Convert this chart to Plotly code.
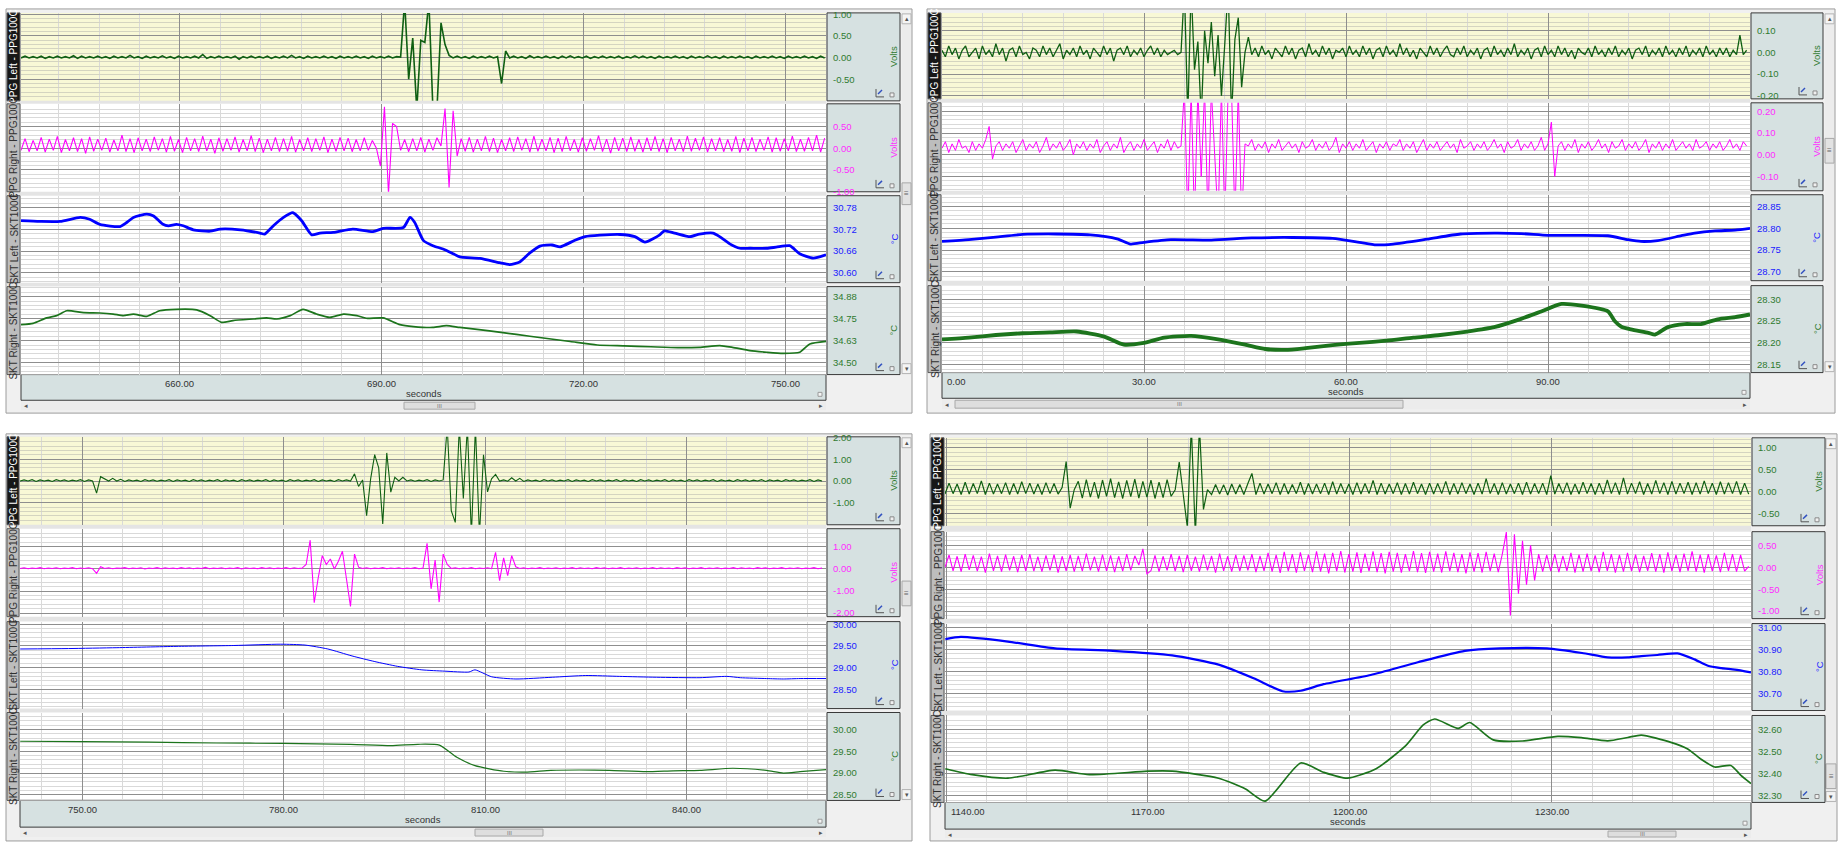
import numpy as np
import plotly.graph_objects as go

W, H = 1838, 843
FONT = "Liberation Sans, Arial, sans-serif"

# ------------------------------------------------------------------ time axes
tl_view = [636.4, 756.0]
tr_view = [0.0, 120.0]
bl_view = [740.77, 860.76]
br_view = [1139.85, 1259.6]

tl_xticks = [660, 690, 720, 750]
tr_xticks = [0, 30, 60, 90]
bl_xticks = [750, 780, 810, 840]
br_xticks = [1140, 1170, 1200, 1230]

PPG_STEP = 0.6      # seconds between stored PPG values
TR_PPG_STEP = 0.5

# ------------------------------------------------------------------ top-left recording
tl_ppg_left = [
    -0.01, 0.03, -0.01, 0.02, -0.01, 0.03, -0.02, 0.02, -0.01, 0.03,
    -0.01, 0.02, -0.01, 0.04, -0.02, 0.03, -0.01, 0.02, -0.01, 0.03,
    -0.01, 0.02, -0.02, 0.03, -0.01, 0.02, -0.01, 0.05, -0.01, 0.02,
    -0.02, 0.03, -0.01, 0.02, -0.01, 0.04, -0.01, 0.02, -0.02, 0.03,
    -0.01, 0.02, -0.01, 0.03, -0.01, 0.07, -0.02, 0.02, -0.01, 0.03,
    -0.01, 0.02, -0.01, 0.03, -0.04, 0.02, -0.01, 0.03, -0.01, 0.02,
    -0.01, 0.03, -0.02, 0.02, -0.01, 0.03, -0.01, 0.05, -0.01, 0.02,
    -0.02, 0.03, -0.01, 0.02, -0.01, 0.03, -0.01, 0.02, -0.02, 0.03,
    -0.01, 0.02, -0.01, 0.03, -0.01, 0.02, -0.02, 0.03, -0.01, 0.02,
    -0.01, 0.03, -0.01, 0.02, 0.01,
    1.3, -0.5, 0.45, -1.2, 0.4, 0.35, 1.3, -1.2, -1.2, 0.8, 0.3, 0.05,
    -0.01, 0.03, -0.01, 0.02, -0.02, 0.03, -0.01, 0.02, -0.01, 0.03, -0.01, 0.02,
    -0.6, 0.15,
    -0.01, 0.03, -0.01, 0.02, -0.02, 0.04, -0.01, 0.02, -0.01,
    0.03, -0.01, 0.02, -0.02, 0.03, -0.01, 0.04, -0.01, 0.02, -0.01,
    0.03, -0.02, 0.02, -0.01, 0.03, -0.01, 0.02, -0.01, 0.03, -0.02,
    0.02, -0.01, 0.04, -0.01, 0.03, -0.01, 0.02, -0.02, 0.03, -0.01,
    0.02, -0.01, 0.03, -0.01, 0.02, -0.02, 0.03, -0.01, 0.02, -0.01,
    0.04, -0.01, 0.02, -0.02, 0.03, -0.01, 0.02, -0.01, 0.03, -0.01,
    0.02, -0.02, 0.03, -0.01, 0.02, -0.01, 0.03, -0.01, 0.02, -0.02,
    0.03, -0.01, 0.02, -0.01, 0.03, -0.01, 0.02, -0.02, 0.03, -0.01,
]
tl_ppg_right = [
    -0.05, 0.22, -0.08, 0.18, -0.06, 0.25, -0.09, 0.21, -0.05, 0.27,
    -0.10, 0.20, -0.06, 0.24, -0.08, 0.22, -0.12, 0.26, -0.07, 0.21,
    -0.05, 0.23, -0.09, 0.19, -0.06, 0.30, -0.08, 0.22, -0.10, 0.24,
    -0.06, 0.21, -0.08, 0.26, -0.05, 0.22, -0.09, 0.27, -0.07, 0.20,
    -0.10, 0.25, -0.06, 0.22, -0.08, 0.28, -0.06, 0.21, -0.12, 0.24,
    -0.07, 0.22, -0.05, 0.26, -0.09, 0.20, -0.06, 0.29, -0.08, 0.23,
    -0.10, 0.21, -0.06, 0.25, -0.08, 0.22, -0.07, 0.27, -0.09, 0.20,
    -0.06, 0.24, -0.08, 0.22, -0.05, 0.26, -0.10, 0.21, -0.07, 0.25,
    -0.06, 0.23, -0.08, 0.20, -0.06, 0.24, -0.05, 0.18, 0.00,
    -0.41, 0.95, -1.05, 0.57, 0.50, -0.05, 0.20,
    -0.08, 0.22, -0.06, 0.25, -0.09, 0.21, -0.05, 0.24, 0.05,
    0.91, -0.90, 0.86, -0.18,
    0.22, -0.07, 0.25, -0.09, 0.21, -0.06, 0.27, -0.08, 0.23, -0.10,
    0.20, -0.06, 0.24, -0.08, 0.26, -0.05, 0.22, -0.09, 0.28, -0.07,
    0.21, -0.06, 0.25, -0.10, 0.23, -0.08, 0.27, -0.06, 0.20, -0.09,
    0.24, -0.07, 0.22, -0.05, 0.29, -0.08, 0.21, -0.11, 0.25, -0.06,
    0.23, -0.08, 0.26, -0.07, 0.20, -0.09, 0.24, -0.06, 0.27, -0.08,
    0.22, -0.10, 0.25, -0.06, 0.21, -0.08, 0.28, -0.07, 0.23, -0.05,
    0.26, -0.09, 0.22, -0.06, 0.24, -0.08, 0.20, -0.07, 0.27, -0.10,
    0.23, -0.06, 0.25, -0.08, 0.21, -0.05, 0.26, -0.09, 0.24, -0.07,
    0.22, -0.06, 0.28, -0.08, 0.21, -0.07, 0.25, -0.06, 0.30, -0.09,
    0.23,
]
tl_skt_left_t = [
    636.4, 639.2, 642.2, 645.2, 646.6, 648.1, 651.1, 652.1, 653.1, 655.1,
    656.1, 657.5, 658.3, 659.5, 660.5, 662.0, 664.5, 666.0, 669.0, 671.9,
    672.6, 673.9, 675.4, 676.8, 678.1, 679.6, 680.8, 682.8, 685.7, 688.7,
    690.2, 693.2, 694.2, 694.9, 696.2, 697.6, 699.1, 700.6, 701.6, 704.6,
    707.5, 709.0, 710.5, 712.0, 713.5, 715.3, 716.5, 718.7, 720.2, 722.4,
    725.4, 727.6, 729.1, 731.3, 732.0, 733.5, 735.8, 737.2, 739.2, 740.2,
    741.7, 743.2, 744.7, 747.2, 748.6, 750.6, 752.1, 754.1, 756.0,
]
tl_skt_left = [
    30.744, 30.742, 30.742, 30.753, 30.748, 30.734, 30.728, 30.739, 30.753, 30.762,
    30.757, 30.734, 30.730, 30.734, 30.730, 30.719, 30.715, 30.721, 30.719, 30.710,
    30.707, 30.730, 30.753, 30.766, 30.744, 30.705, 30.710, 30.712, 30.721, 30.714,
    30.723, 30.725, 30.753, 30.739, 30.689, 30.675, 30.666, 30.653, 30.644, 30.640,
    30.628, 30.623, 30.630, 30.655, 30.674, 30.677, 30.672, 30.690, 30.700, 30.704,
    30.706, 30.700, 30.685, 30.705, 30.716, 30.710, 30.700, 30.707, 30.710, 30.700,
    30.680, 30.668, 30.668, 30.668, 30.671, 30.675, 30.653, 30.641, 30.650,
]
tl_skt_right_t = [
    636.4, 638.2, 640.2, 641.7, 643.2, 645.7, 648.1, 650.1, 651.6, 653.1,
    655.1, 657.0, 659.5, 662.5, 664.5, 666.2, 667.9, 670.9, 672.9, 674.4,
    676.4, 678.3, 680.3, 682.3, 684.3, 686.3, 687.7, 690.2, 692.7, 694.7,
    697.6, 699.6, 701.6, 706.0, 710.0, 714.0, 718.0, 722.0, 726.0, 730.0,
    734.0, 737.2, 740.2, 742.1, 744.7, 747.2, 749.6, 752.1, 753.6, 756.0,
]
tl_skt_right = [
    34.716, 34.723, 34.754, 34.767, 34.795, 34.784, 34.782, 34.776, 34.767, 34.776,
    34.763, 34.795, 34.803, 34.800, 34.767, 34.729, 34.739, 34.748, 34.754, 34.748,
    34.767, 34.803, 34.776, 34.757, 34.776, 34.767, 34.752, 34.754, 34.716, 34.705,
    34.700, 34.710, 34.700, 34.680, 34.660, 34.640, 34.620, 34.600, 34.595, 34.590,
    34.585, 34.587, 34.597, 34.587, 34.568, 34.559, 34.553, 34.559, 34.606, 34.621,
]

# ------------------------------------------------------------------ top-right recording
tr_ppg_left = [
    0.01, -0.02, 0.03, -0.01, 0.02, -0.03, 0.01, 0.03, -0.02, 0.00,
    0.02, -0.03, 0.03, -0.01, 0.01, -0.02, 0.04, -0.01, 0.02, -0.04,
    0.01, 0.02, -0.02, 0.03, -0.01, 0.00, -0.03, 0.02, 0.01, -0.02,
    0.03, -0.01, 0.02, -0.02, 0.01, 0.04, -0.03, 0.01, -0.01, 0.02,
    -0.02, 0.03, -0.01, 0.01, -0.03, 0.02, 0.00, -0.02, 0.03, -0.01,
    0.02, -0.04, 0.01, 0.02, -0.01, 0.03, -0.02, 0.01, -0.01, 0.02,
    -0.02, 0.01, 0.03, -0.01, 0.02, -0.02, 0.01, -0.01, 0.00, 0.01,
    -0.01, 0.00,
    0.30, -0.30, 0.30, -0.08, 0.05, -0.30, 0.10, -0.05, 0.14, -0.11,
    0.08, -0.20, 0.04, 0.30, -0.30, 0.06, 0.16, -0.16, 0.00, 0.07,
    -0.01, 0.02, -0.02, 0.03, -0.01, 0.01, -0.03, 0.02, 0.00, -0.02,
    0.03, -0.01, 0.02, -0.03, 0.01, 0.02, -0.02, 0.04, -0.01, 0.01,
    -0.02, 0.03, -0.01, 0.02, -0.03, 0.01, 0.00, 0.02, -0.02, 0.03,
    -0.01, 0.01, -0.02, 0.03, -0.01, 0.02, -0.03, 0.01, 0.02, -0.02,
    0.03, -0.01, 0.01, -0.02, 0.04, -0.01, 0.02, -0.02, 0.01, -0.03,
    0.02, 0.00, -0.02, 0.03, -0.01, 0.02, -0.02, 0.01, 0.03, -0.01,
    -0.02, 0.02, -0.01, 0.03, -0.02, 0.01, -0.01, 0.02, -0.03, 0.01,
    0.02, -0.02, 0.03, -0.01, 0.01, -0.02, 0.02, -0.01, 0.04, -0.02,
    0.01, -0.01, 0.02, -0.03, 0.01, 0.02, -0.02, 0.03, -0.01, 0.01,
    -0.02, 0.03, -0.01, 0.02, -0.02, 0.01, -0.03, 0.02, 0.00, -0.01,
    0.02, -0.02, 0.03, -0.01, 0.01, -0.02, 0.02, -0.01, 0.03, -0.02,
    0.01, -0.01, 0.02, -0.03, 0.01, 0.02, -0.01, 0.03, -0.02, 0.01,
    -0.01, 0.02, -0.02, 0.03, -0.01, 0.01, -0.02, 0.02, -0.01, 0.03,
    -0.02, 0.01, -0.01, 0.02, -0.02, 0.03, -0.01, 0.01, -0.02, 0.02,
    -0.01, 0.02, -0.02, 0.01, -0.01, 0.08, -0.01, 0.01,
]
tr_ppg_right = [
    0.03, 0.06, 0.01, 0.05, 0.02, 0.07, 0.03, 0.04, 0.01, 0.06,
    0.02, 0.05, 0.03, 0.07, 0.13, -0.02, 0.04, 0.06, 0.02, 0.05,
    0.03, 0.06, 0.01, 0.04, 0.07, 0.02, 0.05, 0.03, 0.06, 0.01,
    0.04, 0.08, 0.02, 0.05, 0.03, 0.06, 0.02, 0.04, 0.07, 0.00,
    0.05, 0.03, 0.06, 0.02, 0.05, 0.03, 0.07, 0.01, 0.04, 0.06,
    0.02, 0.05, 0.03, 0.08, 0.01, 0.04, 0.06, 0.02, 0.05, 0.03,
    0.07, 0.02, 0.04, 0.06, 0.01, 0.05, 0.03, 0.07, 0.02, 0.06,
    0.03, 0.04,
    0.30, -0.30, 0.30, -0.30, 0.30, -0.10, 0.30, -0.30, 0.30, 0.00,
    -0.30, 0.30, -0.30, 0.30, 0.30, -0.30, 0.30, -0.30, 0.05,
    0.04, 0.07, 0.02, 0.05, 0.03, 0.06, 0.01, 0.05, 0.03, 0.07,
    0.02, 0.04, 0.06, 0.03, 0.05, 0.01, 0.06, 0.03, 0.04, 0.07,
    0.02, 0.05, 0.03, 0.06, 0.02, 0.04, 0.08, 0.01, 0.05, 0.03,
    0.06, 0.02, 0.05, 0.03, 0.07, 0.02, 0.04, 0.06, 0.01, 0.05,
    0.03, 0.06, 0.02, 0.05, 0.04, 0.07, 0.02, 0.05, 0.03, 0.06,
    0.01, 0.04, 0.07, 0.02, 0.05, 0.03, 0.06, 0.02, 0.04, 0.06,
    0.03, 0.05, 0.01, 0.07, 0.03, 0.04, 0.06, 0.02, 0.05, 0.03,
    0.06, 0.02, 0.04, 0.07, 0.03, 0.05, 0.01, 0.06, 0.03, 0.04,
    0.07, 0.02, 0.05, 0.03, 0.06, 0.02, 0.04, 0.08, 0.02, 0.05,
    0.15, -0.10, 0.04, 0.06, 0.02, 0.05, 0.03, 0.07, 0.01, 0.05,
    0.03, 0.06, 0.02, 0.04, 0.07, 0.03, 0.05, 0.01, 0.06, 0.03,
    0.04, 0.07, 0.02, 0.05, 0.03, 0.06, 0.02, 0.04, 0.07, 0.01,
    0.05, 0.03, 0.06, 0.02, 0.05, 0.03, 0.07, 0.02, 0.04, 0.06,
    0.03, 0.05, 0.02, 0.07, 0.03, 0.04, 0.06, 0.02, 0.05, 0.03,
    0.06, 0.02, 0.04, 0.07, 0.03, 0.05, 0.02, 0.06, 0.04,
]
tr_skt_left_t = [
    0, 4, 8, 12, 17, 22, 26, 28, 30, 34, 40, 46, 52, 58, 62, 64.5,
    67, 72, 77, 82, 86, 90, 94, 98.9, 101.9, 103.8, 106.3, 109.8, 111.8, 114.8, 117.8, 120,
]
tr_skt_left = [
    28.770, 28.774, 28.780, 28.786, 28.787, 28.785, 28.776, 28.764, 28.768, 28.774,
    28.773, 28.778, 28.779, 28.777, 28.768, 28.762, 28.764, 28.775, 28.787, 28.789,
    28.788, 28.784, 28.784, 28.783, 28.774, 28.770, 28.772, 28.783, 28.789, 28.794,
    28.796, 28.800,
]
tr_skt_right_t = [
    0, 4, 8, 12, 16, 20, 24, 27, 30, 33, 37, 41, 45, 48, 51, 54, 58, 62, 66, 70,
    74, 78, 82, 86, 89, 92, 95, 98.9, 99.9, 100.9, 102.3, 104.9, 105.9, 107.8, 110.3,
    112.7, 115.2, 117.8, 120,
]
tr_skt_right = [
    28.208, 28.212, 28.218, 28.222, 28.224, 28.226, 28.215, 28.196, 28.200, 28.212,
    28.216, 28.208, 28.196, 28.186, 28.184, 28.188, 28.195, 28.200, 28.205, 28.212,
    28.218, 28.226, 28.236, 28.255, 28.272, 28.289, 28.285, 28.272, 28.250, 28.237,
    28.231, 28.223, 28.219, 28.236, 28.243, 28.243, 28.254, 28.259, 28.265,
]

# ------------------------------------------------------------------ bottom-left recording
bl_ppg_left = [
    0.0, 0.05, 0.0, 0.06, -0.02, 0.05, 0.0, 0.04, -0.02, 0.06,
    0.0, 0.05, -0.01, 0.04, 0.0, 0.06, -0.02, 0.05, 0.0,
    -0.56, 0.2, 0.1,
    0.0, 0.12, 0.0, 0.08, -0.02, 0.05, 0.0, 0.04, -0.02, 0.06,
    0.0, 0.05, -0.01, 0.04, 0.0, 0.06, -0.02, 0.05, 0.0, 0.04,
    -0.02, 0.06, 0.0, 0.05, -0.01, 0.04, 0.0, 0.06, -0.02, 0.05,
    0.0, 0.04, -0.02, 0.06, 0.0, 0.05, -0.01, 0.04, 0.0, 0.06,
    -0.02, 0.05, 0.0, 0.04, -0.02, 0.06, 0.0, 0.05, -0.01, 0.04,
    0.0, 0.06, -0.02, 0.05, 0.0, 0.04, -0.02, 0.06, 0.0, 0.05, 0.0,
    0.33, -0.25, 0.05, -1.59, 0.1, 1.21, 0.6, -1.97, 1.29, -0.51, 0.17, 0.0, 0.17, 0.0,
    0.05, -0.01, 0.04, 0.0, 0.06, -0.02, 0.05, 0.0,
    0.05, 2.5, -1.36, -1.9, 2.5, -0.8, 2.5, -2.5, 2.5, -2.5, 1.2, -0.5, 0.1, 0.3, 0.0,
    0.05, -0.01, 0.15, 0.0, 0.12, -0.02, 0.05, 0.0, 0.04, -0.02,
    0.06, 0.0, 0.05, -0.01, 0.04, 0.0, 0.06, -0.02, 0.05, 0.0,
    0.04, -0.02, 0.06, 0.0, 0.05, -0.01, 0.04, 0.0, 0.06, -0.02,
    0.05, 0.0, 0.04, -0.02, 0.06, 0.0, 0.05, -0.01, 0.04, 0.0,
    0.06, -0.02, 0.05, 0.0, 0.04, -0.02, 0.06, 0.0, 0.05, -0.01,
    0.04, 0.0, 0.06, -0.02, 0.05, 0.0, 0.04, -0.02, 0.06, 0.0,
    0.05, -0.01, 0.04, 0.0, 0.06, -0.02, 0.05, 0.0, 0.04, -0.02,
    0.06, 0.0, 0.05, -0.01, 0.04, 0.0, 0.06, -0.02, 0.05, 0.0,
]
bl_ppg_right = [
    0.02, 0.05, 0.01, 0.04, 0.02, 0.06, 0.01, 0.04, 0.02, 0.05,
    0.01, 0.04, 0.02, 0.06, 0.01, 0.04, 0.02, 0.05, 0.01,
    -0.2, 0.1,
    0.02, 0.05, 0.01, 0.04, 0.03, 0.06, 0.01, 0.04, 0.02, 0.05,
    0.00, 0.04, 0.02, 0.06, 0.01, 0.05, 0.02, 0.04, 0.01, 0.06,
    0.02, 0.05, 0.01, 0.04, 0.02, 0.07, 0.01, 0.04, 0.02, 0.05,
    0.01, 0.04, 0.02, 0.06, 0.00, 0.05, 0.02, 0.04, 0.01, 0.06,
    0.02, 0.05, 0.01, 0.04, 0.02, 0.06, 0.01, 0.05, 0.02, 0.04,
    0.2, 1.3, -1.53, -0.4, 0.6, 0.2, 0.45, 0.0, 0.35, 0.8, -0.4, -1.7, 0.67, 0.08,
    0.02, 0.05, 0.01, 0.04, 0.02, 0.06, 0.01, 0.04, 0.02, 0.05, 0.01, 0.04, 0.02, 0.06, 0.01, 0.04,
    1.16, -0.9, 0.4, -1.5, 0.67, 0.2,
    0.02, 0.05, 0.01, 0.04, 0.02, 0.06, 0.01, 0.04, 0.02, 0.05, 0.01,
    0.75, -0.53, 0.5, -0.3, 0.6, 0.1,
    0.02, 0.05, 0.01, 0.04, 0.02, 0.06, 0.01, 0.04, 0.02, 0.05,
    0.01, 0.04, 0.02, 0.06, 0.01, 0.05, 0.02, 0.04, 0.01, 0.06,
    0.02, 0.05, 0.01, 0.04, 0.02, 0.06, 0.01, 0.04, 0.02, 0.05,
    0.01, 0.04, 0.02, 0.06, 0.01, 0.05, 0.02, 0.04, 0.01, 0.06,
    0.02, 0.05, 0.01, 0.04, 0.02, 0.06, 0.01, 0.04, 0.02, 0.05,
    0.01, 0.04, 0.02, 0.06, 0.01, 0.05, 0.02, 0.04, 0.01, 0.06,
    0.02, 0.05, 0.01, 0.04, 0.02, 0.06, 0.01, 0.04, 0.02, 0.05,
    0.01, 0.04, 0.02, 0.06, 0.01, 0.04,
]
bl_skt_left_t = [
    740.8, 748.0, 755.2, 764.0, 772.6, 779.6, 783.2, 786.6, 790.2, 793.6,
    797.0, 800.6, 804.0, 807.6, 808.5, 811.0, 814.6, 820.0, 825.0, 830.0,
    835.5, 842.0, 846.0, 848.0, 851.9, 854.4, 856.9, 860.8,
]
bl_skt_left = [
    29.43, 29.44, 29.46, 29.49, 29.51, 29.54, 29.52, 29.43, 29.27, 29.14,
    29.03, 28.95, 28.92, 28.90, 28.95, 28.79, 28.74, 28.78, 28.82, 28.80,
    28.78, 28.77, 28.80, 28.77, 28.75, 28.74, 28.75, 28.75,
]
bl_skt_right_t = [
    740.8, 750.0, 760.0, 770.0, 780.0, 790.0, 796.0, 800.0, 803.2, 805.8,
    808.5, 812.8, 816.0, 819.8, 824.0, 828.5, 834.0, 838.0, 842.0, 846.9,
    851.9, 854.4, 856.9, 860.8,
]
bl_skt_right = [
    29.73, 29.72, 29.71, 29.69, 29.68, 29.66, 29.63, 29.66, 29.64, 29.36,
    29.17, 29.04, 29.02, 29.06, 29.07, 29.06, 29.03, 29.05, 29.06, 29.11,
    29.06, 29.00, 29.03, 29.08,
]

# ------------------------------------------------------------------ bottom-right recording
br_ppg_left = [
    -0.05, 0.20, -0.04, 0.18, -0.06, 0.22, -0.05, 0.19, -0.04, 0.25,
    -0.06, 0.20, -0.05, 0.18, -0.04, 0.21, -0.06, 0.19, -0.05, 0.23,
    -0.04, 0.20, -0.05, 0.18, -0.06, 0.21, -0.04, 0.19, -0.05, 0.10,
    0.69, -0.37,
    0.05, 0.24, -0.14, 0.28, -0.12, 0.22, -0.15, 0.27, -0.10, 0.30,
    -0.13, 0.23, -0.15, 0.26, -0.11, 0.29, -0.14, 0.24, -0.12, 0.27,
    -0.15, 0.22, -0.13, 0.28, -0.10, 0.05,
    0.68, -0.1, -0.8, 1.5, -1.0, 1.5, -0.4, 0.05,
    -0.06, 0.17, -0.05, 0.16, -0.07, 0.18, -0.05, 0.17, -0.06, 0.19,
    0.42,
    -0.06, 0.20, -0.05, 0.18, -0.04, 0.21, -0.06, 0.19, -0.05, 0.17,
    -0.04, 0.22, -0.06, 0.19, -0.05, 0.18, -0.04, 0.20, -0.06, 0.23,
    -0.05, 0.19, -0.04, 0.18, -0.06, 0.21, -0.05, 0.19, -0.04, 0.26,
    -0.06, 0.20, -0.05, 0.18, -0.04, 0.21, -0.06, 0.19, -0.05, 0.22,
    -0.04, 0.18, -0.06, 0.20, -0.05, 0.19, -0.04, 0.24, -0.06, 0.19,
    -0.05, 0.21, -0.04, 0.18, -0.06, 0.20, -0.05, 0.30, -0.04, 0.19,
    -0.06, 0.21, -0.05, 0.18, -0.04, 0.20, -0.06, 0.22, -0.05, 0.19,
    -0.04, 0.20, -0.06, 0.37, -0.05, 0.19, -0.04, 0.21, -0.06, 0.18,
    -0.05, 0.22, -0.04, 0.19, -0.06, 0.20, -0.05, 0.27, -0.04, 0.21,
    -0.06, 0.32, -0.05, 0.20, -0.04, 0.23, -0.06, 0.19, -0.05, 0.26,
    -0.04, 0.21, -0.06, 0.24, -0.05, 0.20, -0.04, 0.22, -0.06, 0.21,
    -0.05, 0.25, -0.04, 0.20, -0.06, 0.23, -0.05, 0.21, -0.04, 0.24,
    -0.06, 0.20, -0.05,
]
br_ppg_right = [
    0.00, 0.28, -0.08, 0.25, -0.10, 0.30, -0.06, 0.27, -0.09, 0.24,
    -0.12, 0.31, -0.08, 0.26, -0.10, 0.29, -0.07, 0.25, -0.11, 0.28,
    -0.08, 0.30, -0.09, 0.24, -0.10, 0.27, -0.07, 0.29, -0.12, 0.25,
    -0.08, 0.28, -0.10, 0.26, -0.09, 0.31, -0.07, 0.24, -0.10, 0.29,
    -0.08, 0.27, -0.11, 0.25, -0.09, 0.30, -0.07, 0.26, 0.05,
    0.42, -0.15,
    -0.08, 0.27, -0.10, 0.25, -0.07, 0.30, -0.09, 0.26, -0.11, 0.28,
    -0.08, 0.24, -0.10, 0.29, -0.07, 0.26, -0.12, 0.31, -0.08, 0.25,
    -0.10, 0.28, -0.09, 0.27, -0.07, 0.30, -0.11, 0.26, -0.08, 0.33,
    -0.10, 0.28, -0.13, 0.35, -0.09, 0.30, -0.12, 0.34, -0.08, 0.29,
    -0.11, 0.36, -0.10, 0.31, -0.14, 0.33, -0.09, 0.37, -0.12, 0.30,
    -0.10, 0.34, -0.13, 0.31, -0.09, 0.36, -0.11, 0.32, -0.14, 0.35,
    -0.10, 0.33, -0.12, 0.30, -0.09, 0.37, -0.11, 0.32, -0.13, 0.35,
    -0.10, 0.31, -0.12, 0.36, -0.09, 0.33, -0.11, 0.30, -0.14, 0.34,
    -0.10, 0.32, -0.12, 0.35, -0.09, 0.31, -0.11,
    0.3, 0.8, -1.1, 0.75, -0.6, 0.6, -0.4, 0.5, -0.3, 0.3, -0.1,
    0.28, -0.09, 0.30, -0.11, 0.26, -0.08, 0.33, -0.12, 0.29, -0.10,
    0.31, -0.09, 0.27, -0.11, 0.35, -0.08, 0.30, -0.12, 0.28, -0.10,
    0.33, -0.09, 0.29, -0.11, 0.26, -0.08, 0.32, -0.10, 0.30, -0.12,
    0.34, -0.09, 0.28, -0.11, 0.31, -0.08, 0.36, -0.10, 0.29, -0.12,
    0.30, -0.09, 0.27, -0.11, 0.33, -0.08, 0.30, -0.10, 0.28, -0.09,
    0.02,
]
br_skt_left_t = [
    1139.9, 1142.2, 1149.2, 1156.2, 1164.8, 1173.6, 1180.5, 1185.7, 1190.0, 1192.7,
    1196.1, 1203.1, 1210.1, 1217.1, 1222.3, 1229.3, 1234.5, 1238.3, 1241.3, 1243.3,
    1245.7, 1248.7, 1251.2, 1253.2, 1255.2, 1257.2, 1259.6,
]
br_skt_left = [
    30.947, 30.957, 30.936, 30.905, 30.894, 30.873, 30.831, 30.769, 30.710, 30.712,
    30.742, 30.784, 30.842, 30.894, 30.905, 30.905, 30.884, 30.864, 30.864, 30.870,
    30.875, 30.882, 30.855, 30.826, 30.815, 30.808, 30.796,
]
br_skt_right_t = [
    1139.9, 1143.9, 1149.2, 1156.2, 1161.3, 1170.0, 1173.6, 1180.5, 1184.5, 1187.4,
    1192.7, 1196.1, 1199.6, 1203.9, 1208.3, 1210.9, 1212.6, 1216.1, 1217.8, 1221.3,
    1225.7, 1230.9, 1234.4, 1238.3, 1241.3, 1243.3, 1247.7, 1250.2, 1252.1, 1254.2,
    1256.6, 1258.1, 1259.6,
]
br_skt_right = [
    32.422, 32.395, 32.379, 32.416, 32.395, 32.411, 32.411, 32.379, 32.330, 32.275,
    32.448, 32.406, 32.379, 32.422, 32.527, 32.621, 32.648, 32.605, 32.632, 32.553,
    32.548, 32.569, 32.563, 32.549, 32.564, 32.575, 32.542, 32.512, 32.467, 32.430,
    32.437, 32.392, 32.355,
]

# ------------------------------------------------------------------ amplitude scales
tl_yranges = [[-1.0, 1.03], [-1.0, 1.02], [30.573, 30.813], [34.432, 34.932]]
tl_yticks = [[-1.0, -0.5, 0.0, 0.5, 1.0], [-1.0, -0.5, 0.0, 0.5, 1.0],
             [30.60, 30.66, 30.72, 30.78], [34.5, 34.625, 34.75, 34.875]]
tl_ylabels = [["", "-0.50", "0.00", "0.50", "1.00"], ["-1.00", "-0.50", "0.00", "0.50", ""],
              ["30.60", "30.66", "30.72", "30.78"], ["34.50", "34.63", "34.75", "34.88"]]

tr_yranges = [[-0.214, 0.182], [-0.166, 0.239], [28.68, 28.877], [28.132, 28.331]]
tr_yticks = [[-0.2, -0.1, 0.0, 0.1], [-0.1, 0.0, 0.1, 0.2],
             [28.70, 28.75, 28.80, 28.85], [28.15, 28.20, 28.25, 28.30]]
tr_ylabels = [["-0.20", "-0.10", "0.00", "0.10"], ["-0.10", "0.00", "0.10", "0.20"],
              ["28.70", "28.75", "28.80", "28.85"], ["28.15", "28.20", "28.25", "28.30"]]

bl_yranges = [[-2.01, 2.03], [-2.16, 1.82], [28.06, 30.06], [28.37, 30.39]]
bl_yticks = [[-2.0, -1.0, 0.0, 1.0, 2.0], [-2.0, -1.0, 0.0, 1.0],
             [28.5, 29.0, 29.5, 30.0], [28.5, 29.0, 29.5, 30.0]]
bl_ylabels = [["", "-1.00", "0.00", "1.00", "2.00"], ["-2.00", "-1.00", "0.00", "1.00"],
              ["28.50", "29.00", "29.50", "30.00"], ["28.50", "29.00", "29.50", "30.00"]]

br_yranges = [[-0.77, 1.23], [-1.17, 0.81], [30.622, 31.018], [32.269, 32.664]]
br_yticks = [[-0.5, 0.0, 0.5, 1.0], [-1.0, -0.5, 0.0, 0.5],
             [30.7, 30.8, 30.9, 31.0], [32.3, 32.4, 32.5, 32.6]]
br_ylabels = [["-0.50", "0.00", "0.50", "1.00"], ["-1.00", "-0.50", "0.00", "0.50"],
              ["30.70", "30.80", "30.90", "31.00"], ["32.30", "32.40", "32.50", "32.60"]]

channel_names = ["PPG Left - PPG100C", "PPG Right - PPG100C", "SKT Left - SKT100C", "SKT Right - SKT100C"]
channel_units = ["Volts", "Volts", "°C", "°C"]

# ------------------------------------------------------------------ styling
GREEN_D = "#0f5f12"
MAGENTA = "#ff00ff"
BLUE = "#0000ff"
GREEN_M = "#1c741c"
TXT_COL = ["#2f7a2f", "#ff2bff", "#1a1aff", "#2f7a2f"]
MAJOR = "#8e8e8e"
MINOR = "#d9d9d9"
MINOR_Y = "#d4d4c0"

# window geometry of the four AcqKnowledge graph windows (pixels)
panels = [
    dict(view=tl_view, xticks=tl_xticks, step=PPG_STEP,
         ppg=[tl_ppg_left, tl_ppg_right],
         skt=[(tl_skt_left_t, tl_skt_left), (tl_skt_right_t, tl_skt_right)],
         yr=tl_yranges, yt=tl_yticks, yl=tl_ylabels,
         widths=[1.6, 1.1, 2.8, 1.7],
         frame=(6, 4, 912, 413), strip=(7, 20), plot=(21, 826), box=(827, 900), vscroll=(902, 911),
         rows=[(8, 97), (100, 189), (193, 281), (285, 374)], band=(374, 400), hscroll=(401, 410),
         hthumb=(404, 475), vthumb=(180, 202)),
    dict(view=tr_view, xticks=tr_xticks, step=TR_PPG_STEP,
         ppg=[tr_ppg_left, tr_ppg_right],
         skt=[(tr_skt_left_t, tr_skt_left), (tr_skt_right_t, tr_skt_right)],
         yr=tr_yranges, yt=tr_yticks, yl=tr_ylabels,
         widths=[1.3, 1.0, 2.8, 3.8],
         frame=(927, 4, 1835, 413), strip=(928, 941), plot=(942, 1750), box=(1751, 1823), vscroll=(1825, 1834),
         rows=[(8, 95), (99, 188), (192, 279), (284, 372)], band=(372, 398), hscroll=(399, 409),
         hthumb=(955, 1403), vthumb=(135, 160)),
    dict(view=bl_view, xticks=bl_xticks, step=PPG_STEP,
         ppg=[bl_ppg_left, bl_ppg_right],
         skt=[(bl_skt_left_t, bl_skt_left), (bl_skt_right_t, bl_skt_right)],
         yr=bl_yranges, yt=bl_yticks, yl=bl_ylabels,
         widths=[1.1, 1.1, 1.0, 1.2],
         frame=(6, 434, 912, 846), strip=(7, 19), plot=(20, 826), box=(827, 900), vscroll=(902, 911),
         rows=[(437, 526), (530, 619), (624, 712), (716, 805)], band=(805, 832), hscroll=(833, 842),
         hthumb=(475, 543), vthumb=(583, 608)),
    dict(view=br_view, xticks=br_xticks, step=PPG_STEP,
         ppg=[br_ppg_left, br_ppg_right],
         skt=[(br_skt_left_t, br_skt_left), (br_skt_right_t, br_skt_right)],
         yr=br_yranges, yt=br_yticks, yl=br_ylabels,
         widths=[1.2, 1.1, 2.2, 1.7],
         frame=(930, 434, 1837, 846), strip=(931, 944), plot=(945, 1751), box=(1752, 1825), vscroll=(1826, 1836),
         rows=[(438, 527), (533, 621), (626, 714), (719, 807)], band=(807, 834), hscroll=(835, 843),
         hthumb=(1608, 1676), vthumb=(768, 793)),
]

shapes, annotations, traces = [], [], []
layout = dict(width=W, height=H, margin=dict(l=0, r=0, t=0, b=0), paper_bgcolor="white",
              plot_bgcolor="rgba(0,0,0,0)", showlegend=False)


def rect(x0, y0, x1, y1, fill, line=None, width=1):
    shapes.append(dict(type="rect", xref="paper", yref="paper", layer="below",
                       x0=x0 / W, x1=x1 / W, y0=1 - y1 / H, y1=1 - y0 / H, fillcolor=fill,
                       line=dict(color=line if line else "rgba(0,0,0,0)", width=width if line else 0)))


def seg(x0, y0, x1, y1, color, width=1):
    shapes.append(dict(type="line", xref="paper", yref="paper", layer="below",
                       x0=x0 / W, x1=x1 / W, y0=1 - y0 / H, y1=1 - y1 / H,
                       line=dict(color=color, width=width)))


def label(x, y, s, size=10, color="#333333", angle=0, xanchor="center", xref="paper"):
    annotations.append(dict(x=x / W if xref == "paper" else x, y=1 - y / H, xref=xref, yref="paper",
                            text=s, showarrow=False, textangle=angle, xanchor=xanchor, yanchor="middle",
                            font=dict(family=FONT, size=size, color=color)))


def grid_vals(lo, hi, anchor, step):
    k0 = int(np.ceil((lo - anchor) / step - 1e-9))
    k1 = int(np.floor((hi - anchor) / step + 1e-9))
    return [anchor + k * step for k in range(k0, k1 + 1)]


n = 0
for p in panels:
    fx0, fy0, fx1, fy1 = p["frame"]
    pl, pr = p["plot"]
    bl_, br_ = p["box"]
    sl, sr = p["strip"]
    rows = p["rows"]

    # window frame
    rect(fx0, fy0, fx1, fy1, "#f0f0f0", "#9c9c9c", 1)
    rect(sl, rows[0][0], pr, rows[-1][1], "#e4e4e4")

    # vertical scroll bar
    vx0, vx1 = p["vscroll"]
    rect(vx0, rows[0][0], vx1, rows[-1][1], "#ececec")
    rect(vx0, rows[0][0] + 1, vx1, rows[0][0] + 11, "#f4f4f4", "#b4b4b4")
    rect(vx0, rows[-1][1] - 11, vx1, rows[-1][1] - 1, "#f4f4f4", "#b4b4b4")
    label((vx0 + vx1) / 2, rows[0][0] + 6, "▴", size=7, color="#555555")
    label((vx0 + vx1) / 2, rows[-1][1] - 6, "▾", size=7, color="#555555")
    t0, t1 = p["vthumb"]
    rect(vx0, t0, vx1, t1, "#e2e2e2", "#a8a8a8")
    label((vx0 + vx1) / 2, (t0 + t1) / 2, "≡", size=8, color="#666666")

    # time axis band and horizontal scroll bar
    b0, b1 = p["band"]
    rect(pl, b0, pr, b1, "#d6e1e1", "#3a3a3a", 1)
    h0, h1 = p["hscroll"]
    rect(pl, h0, pr, h1, "#ececec")
    ht0, ht1 = p["hthumb"]
    rect(ht0, h0 + 1, ht1, h1 - 1, "#dedede", "#a8a8a8")
    label((ht0 + ht1) / 2, (h0 + h1) / 2, "III", size=6, color="#777777")
    label(pl + 5, (h0 + h1) / 2, "◂", size=7, color="#555555")
    label(pr - 5, (h0 + h1) / 2, "▸", size=7, color="#555555")
    rect(pr - 8, b1 - 8, pr - 4, b1 - 4, "#f4f4f4", "#9a9a9a")
    label((pl + pr) / 2, b0 + 19, "seconds", size=9.5, color="#333333")

    lo, hi = p["view"]
    for ci in range(4):
        n += 1
        r0, r1 = rows[ci]
        sfx = "" if n == 1 else str(n)

        # channel background, label strip and scale box
        rect(pl, r0, pr, r1, "#f8f8d6" if ci == 0 else "#ffffff")
        rect(sl, r0, sr, r1, "#171717" if ci == 0 else "#bdbdbd", "#5a5a5a", 1)
        label((sl + sr) / 2 + 0.5, (r0 + r1) / 2, channel_names[ci], size=10,
              color="#ffffff" if ci == 0 else "#303030", angle=-90)
        rect(bl_, r0, br_, r1, "#d6e1e1", "#3a3a3a", 1)
        label(br_ - 6, (r0 + r1) / 2, channel_units[ci], size=9.5, color=TXT_COL[ci], angle=-90)
        # axis / lock icons at the foot of the scale box
        seg(br_ - 24, r1 - 12, br_ - 24, r1 - 4, "#555555", 1)
        seg(br_ - 24, r1 - 4, br_ - 16, r1 - 4, "#555555", 1)
        seg(br_ - 22, r1 - 7, br_ - 18, r1 - 11, "#3050c0", 1.5)
        rect(br_ - 10, r1 - 8, br_ - 6, r1 - 4, "#f0f0f0", "#8a8a8a")

        yr = p["yr"][ci]
        yt = p["yt"][ci]
        ystep = yt[1] - yt[0]
        xaxis = dict(domain=[pl / W, pr / W], range=list(p["view"]), anchor="y" + sfx,
                     showticklabels=False, ticks="", tickmode="array", tickvals=p["xticks"],
                     showgrid=True, gridcolor=MAJOR, gridwidth=1, zeroline=False, showline=False,
                     minor=dict(tickmode="array", showgrid=True, gridcolor=MINOR, gridwidth=1,
                                tickvals=grid_vals(lo, hi, p["xticks"][0], 6.0)),
                     fixedrange=True)
        yaxis = dict(domain=[1 - r1 / H, 1 - r0 / H], range=yr, anchor="x" + sfx, side="right",
                     tickmode="array", tickvals=yt, ticktext=p["yl"][ci], ticks="",
                     ticklabelstandoff=6,
                     tickfont=dict(family=FONT, size=9.5, color=TXT_COL[ci]),
                     showgrid=True, gridcolor=MAJOR, gridwidth=1, zeroline=False, showline=False,
                     minor=dict(tickmode="array", showgrid=True,
                                gridcolor=MINOR_Y if ci == 0 else MINOR, gridwidth=1,
                                tickvals=grid_vals(yr[0], yr[1], yt[0], ystep / 5)),
                     fixedrange=True)
        layout["xaxis" + sfx] = xaxis
        layout["yaxis" + sfx] = yaxis

        color = [GREEN_D, MAGENTA, BLUE, GREEN_M][ci]
        if ci < 2:
            vals = p["ppg"][ci]
            xs = lo + p["step"] * np.arange(len(vals))
            traces.append(go.Scatter(x=xs, y=vals, mode="lines", xaxis="x" + sfx, yaxis="y" + sfx,
                                     line=dict(color=color, width=p["widths"][ci]), hoverinfo="skip"))
        else:
            ts, vals = p["skt"][ci - 2]
            traces.append(go.Scatter(x=ts, y=vals, mode="lines", xaxis="x" + sfx, yaxis="y" + sfx,
                                     line=dict(color=color, width=p["widths"][ci], shape="spline",
                                               smoothing=0.6), hoverinfo="skip"))

    # time tick labels in the band, placed on the last channel's time axis
    for tv in p["xticks"]:
        near_edge = (tv - lo) / (hi - lo) < 0.02
        annotations.append(dict(x=tv, y=1 - (b0 + 9) / H, xref="x" + sfx, yref="paper",
                                text=f"{tv:.2f}", showarrow=False,
                                xanchor="left" if near_edge else "center", yanchor="middle",
                                xshift=3 if near_edge else 0,
                                font=dict(family=FONT, size=9.5, color="#333333")))

layout["shapes"] = shapes
layout["annotations"] = annotations
fig = go.Figure(data=traces, layout=layout)
fig.write_html("out.html", config={"displayModeBar": False})
